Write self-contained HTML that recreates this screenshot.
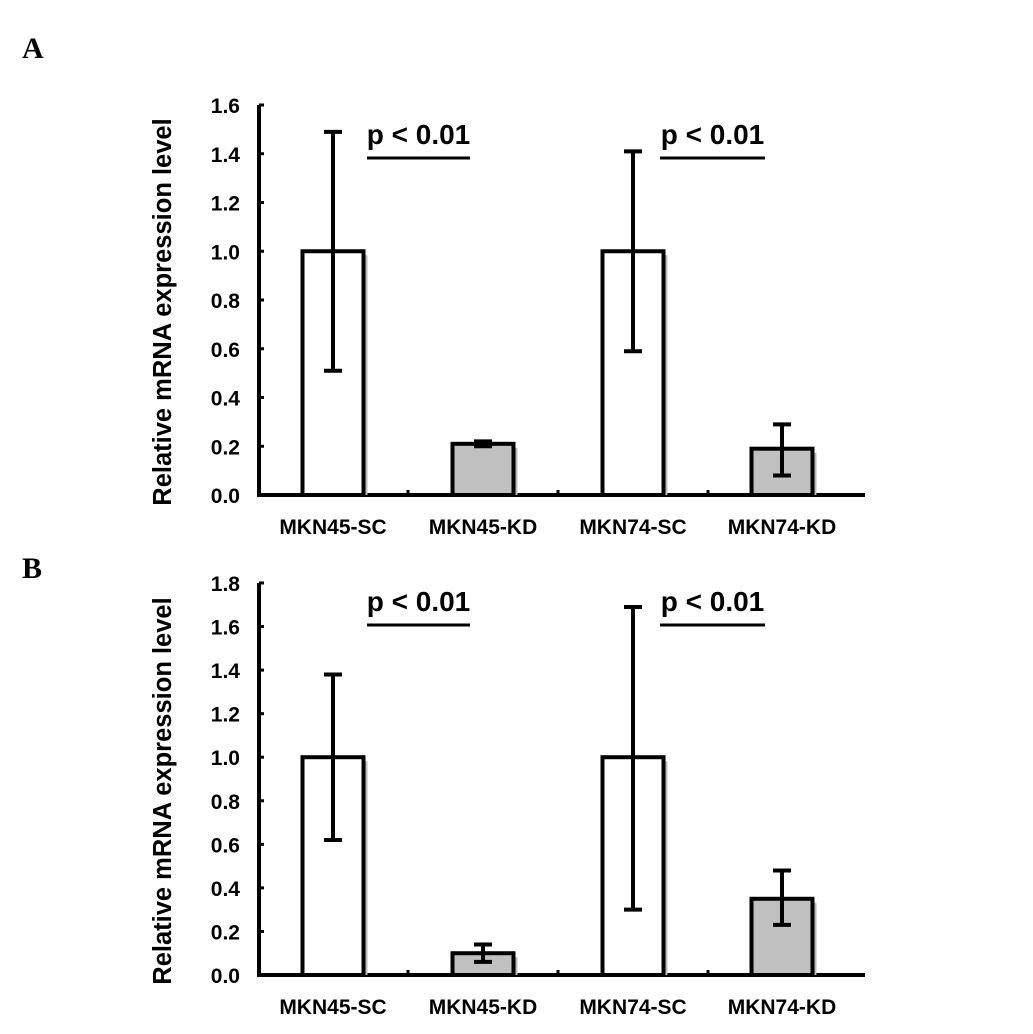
<!DOCTYPE html>
<html><head><meta charset="utf-8"><style>
body{margin:0;background:#fff}
svg{display:block;font-family:"Liberation Sans",Arial,sans-serif;font-weight:bold}
</style></head><body>
<svg id="s" width="1033" height="1034" viewBox="0 0 1033 1034">
<text x="22" y="58" font-family="Liberation Serif" font-size="30">A</text>
<text x="22" y="578" font-family="Liberation Serif" font-size="30">B</text>
</svg>
<script>
const categories = ["MKN45-SC","MKN45-KD","MKN74-SC","MKN74-KD"];
const valuesA = [1.0, 0.21, 1.0, 0.19];
const errHiA = [1.49, 0.22, 1.41, 0.29];
const errLoA = [0.51, 0.20, 0.59, 0.08];
const ticksA = ["0.0","0.2","0.4","0.6","0.8","1.0","1.2","1.4","1.6"];
const valuesB = [1.0, 0.10, 1.0, 0.35];
const errHiB = [1.38, 0.14, 1.69, 0.48];
const errLoB = [0.62, 0.06, 0.30, 0.23];
const ticksB = ["0.0","0.2","0.4","0.6","0.8","1.0","1.2","1.4","1.6","1.8"];
const pLabels = ["p < 0.01","p < 0.01"];

const svg = document.getElementById('s');
const NS = "http://www.w3.org/2000/svg";
function mk(tag, attrs, parent){const e=document.createElementNS(NS,tag);for(const k in attrs)e.setAttribute(k,attrs[k]);(parent||svg).appendChild(e);return e;}

function panel(id, y0, yTop, maxV, ticks, vals, hi, lo){
  const g = mk('g',{});
  
  
  const ax = 259, xEnd = 865;
  const yS = v => y0 - (v/maxV)*(y0-yTop);
  const centers = [333, 483, 633, 782];
  const bw = 61;
  const yl = mk('line',{x1:ax,y1:yTop,x2:ax,y2:y0+2,stroke:'#000','stroke-width':4},g);
  
  
  const xl = mk('line',{x1:ax-2,y1:y0,x2:xEnd,y2:y0,stroke:'#000','stroke-width':4},g);
  
  
  ticks.forEach(t=>{
    const y = yS(parseFloat(t));
    mk('line',{x1:ax,y1:y,x2:ax+5,y2:y,stroke:'#000','stroke-width':3},g);
    const tx = mk('text',{x:ax-19,y:y+8,'font-size':21,'text-anchor':'end'},g);
    tx.textContent = t;
    
    
  });
  [408,558,708].forEach(x=>mk('line',{x1:x,y1:y0,x2:x,y2:y0-5,stroke:'#000','stroke-width':3},g));
  const yt = mk('text',{transform:`translate(171,${(y0+yTop)/2+12}) rotate(-90)`,'font-size':25.5,'text-anchor':'middle'},g);
  yt.textContent = "Relative mRNA expression level";
  
  
  vals.forEach((v,i)=>{
    const c = centers[i], x = c-bw/2, y = yS(v);
    mk('rect',{x:x+4,y:y+4,width:bw,height:y0-y-4,fill:'#bbb'},g);
    const r = mk('rect',{x:x,y:y,width:bw,height:y0-y,fill:i%2?'#c0c0c0':'#fff',stroke:'#000','stroke-width':4},g);
    
    
    const eh = yS(hi[i]), el = yS(lo[i]);
    const e = mk('path',{d:`M${c},${eh}V${el}M${c-9},${eh}H${c+9}M${c-9},${el}H${c+9}`,stroke:'#000','stroke-width':4,fill:'none'},g);
    
    
    const lb = mk('text',{x:c,y:y0+39,'font-size':21,'text-anchor':'middle'},g);
    lb.textContent = categories[i];
    
    
  });
  [[367,470],[660,765]].forEach((s,k)=>{
    const ly = (id==='panel-a') ? 158 : 625;
    const l = mk('line',{x1:s[0],y1:ly,x2:s[1],y2:ly,stroke:'#000','stroke-width':3},g);
    
    
    const t = mk('text',{x:(s[0]+s[1])/2,y:ly-14,'font-size':28,'text-anchor':'middle'},g);
    t.textContent = pLabels[k];
    
    
  });
}
panel('panel-a', 495, 105, 1.6, ticksA, valuesA, errHiA, errLoA);
panel('panel-b', 975, 583, 1.8, ticksB, valuesB, errHiB, errLoB);
</script>
</body></html>
